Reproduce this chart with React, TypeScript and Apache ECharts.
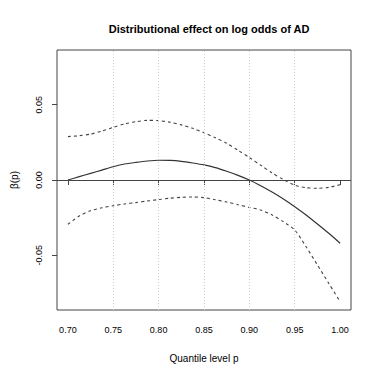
import React, { useEffect, useRef } from "react";
import * as echarts from "echarts";

const titleText = "Distributional effect on log odds of AD";
const xName = "Quantile level p";
const yName = "β(p)";

const xTicks = [0.7, 0.75, 0.8, 0.85, 0.9, 0.95, 1.0];
const xGridLines = [0.75, 0.8, 0.85, 0.9, 0.95];
const yTicks = [-0.05, 0, 0.05];

const pLevels = [
  0.7, 0.7125, 0.725, 0.7375, 0.75, 0.7625, 0.775, 0.7875, 0.8, 0.8125, 0.825, 0.8375, 0.85,
  0.8625, 0.875, 0.8875, 0.9, 0.9125, 0.925, 0.9375, 0.95, 0.9625, 0.975, 0.9875, 1.0,
];
const estimate = [
  0.0, 0.0022, 0.0044, 0.0066, 0.0088, 0.0106, 0.0117, 0.0126, 0.0131, 0.013, 0.0124, 0.0113, 0.01,
  0.0082, 0.0058, 0.0031, 0.0, -0.0038, -0.008, -0.0126, -0.0177, -0.0232, -0.0292, -0.0354, -0.042,
];
const upper = [
  0.0288, 0.0294, 0.0305, 0.0325, 0.035, 0.0372, 0.0387, 0.0396, 0.0394, 0.0384, 0.0366, 0.0343, 0.0314,
  0.0281, 0.0244, 0.0197, 0.0149, 0.0098, 0.0047, 0.0003, -0.0034, -0.0051, -0.0055, -0.0049, -0.0031,
];
const lower = [
  -0.0294, -0.0239, -0.0204, -0.0184, -0.0171, -0.0159, -0.015, -0.0139, -0.013, -0.0121, -0.0115, -0.0113, -0.0117,
  -0.0131, -0.0146, -0.0164, -0.0182, -0.0199, -0.0232, -0.0277, -0.0332, -0.0443, -0.0564, -0.0686, -0.0808,
];

const zip = (xs: number[], ys: number[]) => xs.map((x, i) => [x, ys[i]]);

export default function App() {
  const ref = useRef<HTMLDivElement>(null);
  useEffect(() => {
    if (!ref.current) return;
    const chart = echarts.init(ref.current, undefined, { renderer: "svg" });
    const font = "Liberation Sans, Arial, Helvetica, sans-serif";
    chart.setOption({
      animation: false,
      backgroundColor: "#ffffff",
      textStyle: { fontFamily: font },
      title: {
        text: titleText,
        left: 204,
        textAlign: "center",
        top: 18,
        textStyle: { fontSize: 11, fontWeight: "bold", color: "#000", fontFamily: font },
      },
      grid: {
        left: 57,
        right: 23,
        top: 50,
        bottom: 64,
        show: true,
        borderColor: "#444",
        borderWidth: 1,
        backgroundColor: "transparent",
      },
      xAxis: {
        type: "value",
        min: 0.688,
        max: 1.012,
        name: xName,
        nameLocation: "middle",
        nameGap: 43,
        nameTextStyle: { fontSize: 10, color: "#000", fontFamily: font },
        axisLine: { show: false },
        axisTick: { show: true, length: 5, inside: false, customValues: xTicks, lineStyle: { color: "#444" } },
        axisLabel: {
          customValues: xTicks,
          fontSize: 9,
          color: "#000",
          margin: 15,
          formatter: (v: number) => v.toFixed(2),
        },
        splitLine: { show: false },
      },
      yAxis: {
        type: "value",
        min: -0.0863,
        max: 0.0863,
        name: yName,
        nameLocation: "middle",
        nameGap: 38,
        nameRotate: 90,
        nameTextStyle: { fontSize: 10, color: "#000", fontFamily: font },
        axisLine: { show: false },
        axisTick: { show: true, length: 5, inside: false, customValues: yTicks, lineStyle: { color: "#444" } },
        axisLabel: {
          customValues: yTicks,
          fontSize: 9,
          color: "#000",
          margin: 14,
          rotate: 90,
          formatter: (v: number) => v.toFixed(2).replace("-0.00", "0.00"),
        },
        splitLine: { show: false },
      },
      series: [
        {
          type: "line",
          name: "grid",
          data: [],
          silent: true,
          markLine: {
            silent: true,
            symbol: "none",
            label: { show: false },
            lineStyle: { color: "#cfcfcf", type: [1, 2], width: 1 },
            data: xGridLines.map((v) => ({ xAxis: v })),
          },
        },
        {
          type: "line",
          name: "zero",
          data: [],
          silent: true,
          markLine: {
            silent: true,
            symbol: "none",
            label: { show: false },
            lineStyle: { color: "#444", type: "solid", width: 1.2 },
            data: [{ yAxis: 0 }],
          },
        },
        {
          type: "line",
          name: "estimate",
          data: zip(pLevels, estimate),
          showSymbol: false,
          smooth: 0.25,
          lineStyle: { color: "#333", width: 1.2, type: "solid" },
        },
        {
          type: "line",
          name: "upper",
          data: zip(pLevels, upper),
          showSymbol: false,
          smooth: 0.25,
          lineStyle: { color: "#444", width: 1.1, type: [3, 3] },
        },
        {
          type: "line",
          name: "lower",
          data: zip(pLevels, lower),
          showSymbol: false,
          smooth: 0.25,
          lineStyle: { color: "#444", width: 1.1, type: [3, 3] },
        },
      ],
    });
    return () => chart.dispose();
  }, []);
  return (
    <div
      ref={ref}
      style={{ position: "fixed", left: 0, top: 0, width: 374, height: 374, background: "#fff" }}
    />
  );
}
